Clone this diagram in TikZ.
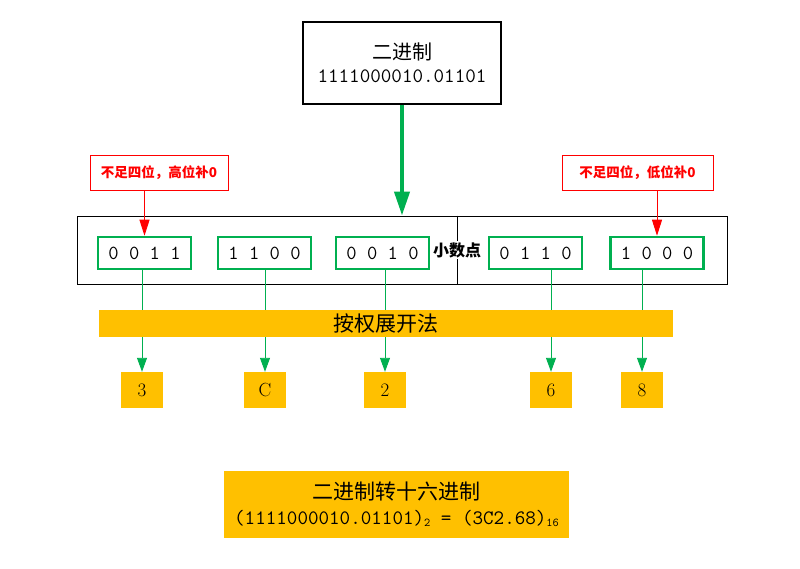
\documentclass[tikz,border=0pt]{standalone}
\usepackage{fontspec}
\newfontfamily\cjk{Noto Sans CJK SC}
\usetikzlibrary{arrows.meta}
\usetikzlibrary{positioning}
\definecolor{boxgreen}{RGB}{0,176,80}
\definecolor{barorange}{RGB}{255,192,0}

\begin{document}
\begin{tikzpicture}[x=1pt, y=-1pt,
    nibble/.style={draw=boxgreen, line width=2.5pt, minimum width=93pt,
      minimum height=32pt, inner sep=0pt, font=\fontsize{20}{22}\ttfamily},
    hexdigit/.style={fill=barorange, minimum width=42pt, minimum height=36pt,
      inner sep=0pt, font=\fontsize{19}{20}\selectfont},
    note/.style={draw=red, line width=0.8pt, minimum height=35pt, inner sep=0pt,
      text=red, font=\cjk\bfseries\fontsize{13.5}{15}\selectfont},
    greenline/.style={draw=boxgreen, line width=0.9pt,
      -{Triangle[width=10pt,length=14pt]}},
    redline/.style={draw=red, line width=0.9pt,
      -{Triangle[width=10pt,length=16pt]}}]
    \useasboundingbox (0,0) rectangle (800,569);

    % FIRST LAYER
    \node[draw, line width=2.6pt, minimum width=198pt, minimum height=82pt,
      align=center] (BINARY) at (402,63)
    {
      {\cjk\fontsize{20}{22}\selectfont 二进制}\\[8pt]
      {\fontsize{20.5}{22}\ttfamily 1111000010.01101}
    };

    % SECOND LAYER
    \node[note, minimum width=138pt] (NOTE_HIGH) at (159,172.5) {不足四位，高位补0};
    \node[note, minimum width=151pt] (NOTE_LOW) at (637.5,172.5) {不足四位，低位补0};

    % THIRD LAYER
    \node[draw, line width=0.8pt, minimum width=650pt, minimum height=68pt,
      inner sep=0pt] (GROUP_FRAME) at (402,250) {};
    \coordinate (POINT_MARK) at (457,250);
    \draw[line width=0.8pt] (GROUP_FRAME.north -| POINT_MARK)
      -- (GROUP_FRAME.south -| POINT_MARK);
    \node[fill=white, inner sep=1pt, font=\cjk\bfseries\fontsize{16}{17}\selectfont]
      (POINT) at (POINT_MARK) {小数点};

    \node[nibble] (NIBBLE_A) at (144.5,253) {0 0 1 1};
    \node[nibble] (NIBBLE_B) at (264.5,253) {1 1 0 0};
    \node[nibble] (NIBBLE_C) at (382.5,253) {0 0 1 0};
    \node[nibble] (NIBBLE_D) at (535.5,253) {0 1 1 0};
    \node[nibble] (NIBBLE_E) at (657,253) {1 0 0 0};

    % FOURTH LAYER
    \node[hexdigit] (HEX_A) at (142,390) {3};
    \node[hexdigit] (HEX_B) at (265,390) {C};
    \node[hexdigit] (HEX_C) at (385,390) {2};
    \node[hexdigit] (HEX_D) at (551,390) {6};
    \node[hexdigit] (HEX_E) at (642,390) {8};

    % LINES
    \draw[draw=boxgreen, line width=4pt, -{Triangle[width=15pt,length=24pt]}]
      (BINARY.south) -- (GROUP_FRAME.north);
    \path
    (NIBBLE_A.north |- NOTE_HIGH.south) edge[redline] (NIBBLE_A.north)
    (NIBBLE_E.north |- NOTE_LOW.south) edge[redline] (NIBBLE_E.north)
    (HEX_A.north |- NIBBLE_A.south) edge[greenline] (HEX_A.north)
    (HEX_B.north |- NIBBLE_B.south) edge[greenline] (HEX_B.north)
    (HEX_C.north |- NIBBLE_C.south) edge[greenline] (HEX_C.north)
    (HEX_D.north |- NIBBLE_D.south) edge[greenline] (HEX_D.north)
    (HEX_E.north |- NIBBLE_E.south) edge[greenline] (HEX_E.north)
    ;

    % BAR
    \node[fill=barorange, minimum width=574pt, minimum height=27pt, inner sep=0pt,
      font=\cjk\fontsize{21}{22}\selectfont] (EXPANSION) at (386,323.5) {按权展开法};

    % RESULT
    \node[fill=barorange, minimum width=345pt, minimum height=67pt, inner sep=0pt,
      align=center] (RESULT) at (396.5,504.5)
    {
      {\cjk\fontsize{21}{22}\selectfont 二进制转十六进制}\\[8pt]
      {\fontsize{20.5}{22}\ttfamily (1111000010.01101)\raisebox{-2pt}{\fontsize{12}{12}\selectfont 2}
        = (3C2.68)\raisebox{-2pt}{\fontsize{12}{12}\selectfont 16}}
    };
\end{tikzpicture}
\end{document}
